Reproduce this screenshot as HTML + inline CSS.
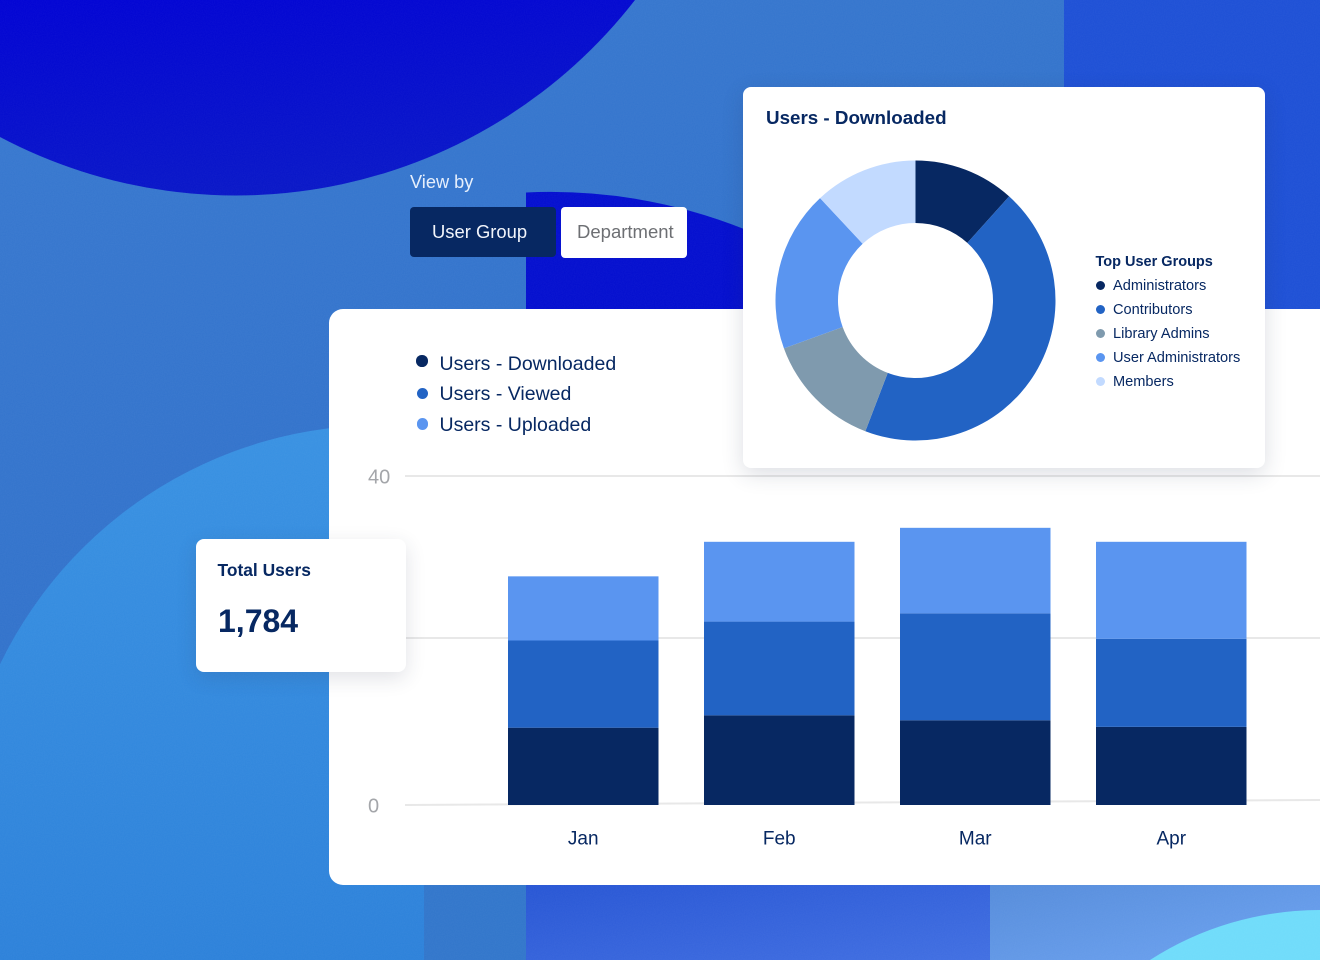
<!DOCTYPE html>
<html lang="en">
<head>
<meta charset="utf-8">
<title>Users dashboard</title>
<style>
html,body{margin:0;padding:0;background:#fff;width:1321px;height:960px;overflow:hidden;}
#stage{position:relative;width:1321px;height:960px;overflow:hidden;font-family:"Liberation Sans",sans-serif;color:#072862;}
#stage svg{position:absolute;left:0;top:0;}
.abs{position:absolute;white-space:nowrap;}
.card{position:absolute;background:#fff;}
.dot{position:absolute;border-radius:50%;}
</style>
</head>
<body>
<div id="stage">
  <svg width="1320" height="960" viewBox="0 0 1320 960">
    <defs>
      <linearGradient id="bgGrad" x1="0" y1="0" x2="0.55" y2="1">
        <stop offset="0" stop-color="#3a7ad0"/>
        <stop offset="0.45" stop-color="#3474cc"/>
        <stop offset="1" stop-color="#2f70ca"/>
      </linearGradient>
      <linearGradient id="darkGrad" x1="0" y1="0" x2="0.3" y2="1">
        <stop offset="0" stop-color="#0204d4"/>
        <stop offset="1" stop-color="#0a18c8"/>
      </linearGradient>
      <linearGradient id="lightCircle" x1="0" y1="0" x2="0" y2="1">
        <stop offset="0" stop-color="#3a92e2"/>
        <stop offset="1" stop-color="#2e82da"/>
      </linearGradient>
      <linearGradient id="midBand" x1="0" y1="0" x2="1" y2="1">
        <stop offset="0" stop-color="#2856d4"/>
        <stop offset="1" stop-color="#4270e2"/>
      </linearGradient>
      <linearGradient id="lightBand" x1="0" y1="0" x2="1" y2="1">
        <stop offset="0" stop-color="#568cda"/>
        <stop offset="1" stop-color="#6ea4f2"/>
      </linearGradient>
      <filter id="noise" x="0" y="0" width="100%" height="100%">
        <feTurbulence type="fractalNoise" baseFrequency="0.9" numOctaves="2" seed="4"/>
        <feColorMatrix type="matrix" values="0 0 0 0 1  0 0 0 0 1  0 0 0 0 1  0 0 0 0.5 -0.12"/>
      </filter>
    </defs>
    <rect width="1320" height="960" fill="url(#bgGrad)"/>
    <rect x="1064" y="0" width="256" height="320" fill="#1f51d6"/>
    <path d="M0 0L635 0A505 505 0 0 1 0 137Z" fill="url(#darkGrad)"/>
    <path d="M526 192.5A522 522 0 0 1 744 229L744 320L526 320Z" fill="#0510cf"/>
    <path d="M0 664.2A423 423 0 0 1 424 427.2L424 960L0 960Z" fill="url(#lightCircle)"/>
    <rect x="424" y="880" width="102" height="80" fill="#3377cb"/>
    <rect x="526" y="880" width="464" height="80" fill="url(#midBand)"/>
    <rect x="990" y="880" width="330" height="80" fill="url(#lightBand)"/>
    <path d="M1150 960A314 314 0 0 1 1320 910L1320 960Z" fill="#70dcfa"/>
    <rect width="1320" height="960" filter="url(#noise)" opacity="0.1"/>
  </svg>

  <div class="abs" style="left:410px;top:171px;font-size:18.2px;line-height:22px;color:#e6effc;">View by</div>
  <div class="abs" style="left:410px;top:207px;width:146px;height:50px;box-sizing:border-box;background:#072862;border-radius:4px;color:#f2f5fb;font-size:18.4px;line-height:50px;padding-left:22px;">User Group</div>
  <div class="abs" style="left:561px;top:207px;width:126px;height:51px;box-sizing:border-box;background:#fff;border-radius:4px;color:#6d6f73;font-size:18.5px;line-height:50px;padding-left:16px;">Department</div>

  <div class="card" style="left:329px;top:309px;width:991px;height:576px;border-radius:14px 0 0 14px;"></div>

  <svg id="barChart" width="1320" height="960" viewBox="0 0 1320 960"></svg>

  <div class="dot" style="left:416px;top:355px;width:11.5px;height:11.5px;background:#072862;"></div>
  <div class="abs" style="left:439.5px;top:352px;font-size:19.5px;line-height:24px;">Users - Downloaded</div>
  <div class="dot" style="left:416.5px;top:387.5px;width:11.5px;height:11.5px;background:#2263c4;"></div>
  <div class="abs" style="left:439.5px;top:382px;font-size:19.5px;line-height:24px;">Users - Viewed</div>
  <div class="dot" style="left:416.5px;top:418px;width:11.5px;height:11.5px;background:#5a95f0;"></div>
  <div class="abs" style="left:439.5px;top:413px;font-size:19.5px;line-height:24px;">Users - Uploaded</div>

  <div class="card" style="left:743px;top:87px;width:522px;height:381px;border-radius:8px;box-shadow:0 6px 22px rgba(40,50,80,.16);"></div>
  <div class="abs" style="left:766px;top:107px;font-size:18.8px;line-height:22px;font-weight:bold;">Users - Downloaded</div>
  <svg id="donutChart" width="1320" height="960" viewBox="0 0 1320 960"></svg>

  <div class="abs" style="left:1095.5px;top:253px;font-size:14.5px;line-height:18px;font-weight:bold;">Top User Groups</div>
  <div class="dot" style="left:1095.5px;top:281px;width:9px;height:9px;background:#072862;"></div>
  <div class="abs" style="left:1113px;top:277px;font-size:14.6px;line-height:18px;">Administrators</div>
  <div class="dot" style="left:1095.5px;top:305px;width:9px;height:9px;background:#2263c4;"></div>
  <div class="abs" style="left:1113px;top:301px;font-size:14.6px;line-height:18px;">Contributors</div>
  <div class="dot" style="left:1095.5px;top:329px;width:9px;height:9px;background:#7f9aae;"></div>
  <div class="abs" style="left:1113px;top:325px;font-size:14.6px;line-height:18px;">Library Admins</div>
  <div class="dot" style="left:1095.5px;top:353px;width:9px;height:9px;background:#5a95f0;"></div>
  <div class="abs" style="left:1113px;top:349px;font-size:14.6px;line-height:18px;">User Administrators</div>
  <div class="dot" style="left:1095.5px;top:377px;width:9px;height:9px;background:#c2daff;"></div>
  <div class="abs" style="left:1113px;top:373px;font-size:14.6px;line-height:18px;">Members</div>

  <div class="card" style="left:196px;top:539px;width:209.5px;height:132.5px;border-radius:8px;box-shadow:0 6px 20px rgba(40,50,80,.14);"></div>
  <div class="abs" style="left:217.5px;top:560px;font-size:17.4px;line-height:20px;font-weight:bold;">Total Users</div>
  <div class="abs" style="left:218px;top:603px;font-size:32px;line-height:37px;font-weight:bold;">1,784</div>

  <div class="abs" style="left:1320px;top:0;width:1px;height:960px;background:#fff;"></div>
</div>

<script>
// Stacked bar chart data
const months = ["Jan", "Feb", "Mar", "Apr"];
const downloaded = [9.4, 10.9, 10.3, 9.5];
const viewed = [10.6, 11.4, 13.0, 10.7];
const uploaded = [7.8, 9.7, 10.4, 11.8];
const gridValues = [0, 20.3, 40];
const tickValues = [0, 40];
const tickLabels = ["0", "40"];

// Donut chart data
const groupNames = ["Administrators", "Contributors", "Library Admins", "User Administrators", "Members"];
const groupUsers = [208, 788, 243, 332, 213];

const NS = "http://www.w3.org/2000/svg";
function make(parent, tag, attrs) {
  const el = document.createElementNS(NS, tag);
  for (const k in attrs) el.setAttribute(k, attrs[k]);
  parent.appendChild(el);
  return el;
}

const barSvg = document.getElementById("barChart");
const plotBottom = 805, plotTop = 476, maxValue = 40;
const firstBarLeft = 508, bandStep = 196, barWidth = 150.5;
function yScale(v) { return plotBottom - (v / maxValue) * (plotBottom - plotTop); }
function xScale(i) { return firstBarLeft + i * bandStep; }

gridValues.forEach(function (v) {
  const y = yScale(v);
  const line = make(barSvg, "line", {
    x1: 405, y1: y, x2: 1320, y2: v === 0 ? y - 5 : y,
    stroke: "#e8e8e8", "stroke-width": 2
  });
  
  
});

tickValues.forEach(function (v, i) {
  const t = make(barSvg, "text", {
    x: 368, y: yScale(v) + 7.5, "text-anchor": "start",
    "font-size": 20, "font-family": '"Liberation Sans", sans-serif', fill: "#a4a6aa"
  });
  t.textContent = tickLabels[i];
  
  
});

const seriesList = [
  { values: downloaded, color: "#072862" },
  { values: viewed, color: "#2263c4" },
  { values: uploaded, color: "#5a95f0" }
];
months.forEach(function (m, i) {
  let running = 0;
  seriesList.forEach(function (s) {
    const v = s.values[i];
    const yTop = yScale(running + v);
    const yBase = yScale(running);
    const r = make(barSvg, "rect", {
      x: xScale(i), y: yTop, width: barWidth, height: yBase - yTop, fill: s.color
    });
    
    
    running += v;
  });
  const lbl = make(barSvg, "text", {
    x: xScale(i) + barWidth / 2, y: 844.5, "text-anchor": "middle",
    "font-size": 19, "font-family": '"Liberation Sans", sans-serif', fill: "#072862"
  });
  lbl.textContent = m;
  
  
});

const donutSvg = document.getElementById("donutChart");
const cx = 915.5, cy = 300.5, outerR = 140, innerR = 77.5;
const donutColors = ["#072862", "#2263c4", "#7f9aae", "#5a95f0", "#c2daff"];
const totalUsers = groupUsers.reduce(function (a, b) { return a + b; }, 0);
function polar(r, frac) {
  const a = frac * 2 * Math.PI;
  return [cx + r * Math.sin(a), cy - r * Math.cos(a)];
}
let cumulative = 0;
groupUsers.forEach(function (v, i) {
  const f0 = cumulative / totalUsers;
  cumulative += v;
  const f1 = cumulative / totalUsers;
  const large = f1 - f0 > 0.5 ? 1 : 0;
  const p0 = polar(outerR, f0), p1 = polar(outerR, f1), p2 = polar(innerR, f1), p3 = polar(innerR, f0);
  const d = "M" + p0[0] + " " + p0[1] +
    "A" + outerR + " " + outerR + " 0 " + large + " 1 " + p1[0] + " " + p1[1] +
    "L" + p2[0] + " " + p2[1] +
    "A" + innerR + " " + innerR + " 0 " + large + " 0 " + p3[0] + " " + p3[1] + "Z";
  const slice = make(donutSvg, "path", { d: d, fill: donutColors[i] });
  
  
  const tip = make(slice, "title", {});
  tip.textContent = groupNames[i];
});
</script>
</body>
</html>
